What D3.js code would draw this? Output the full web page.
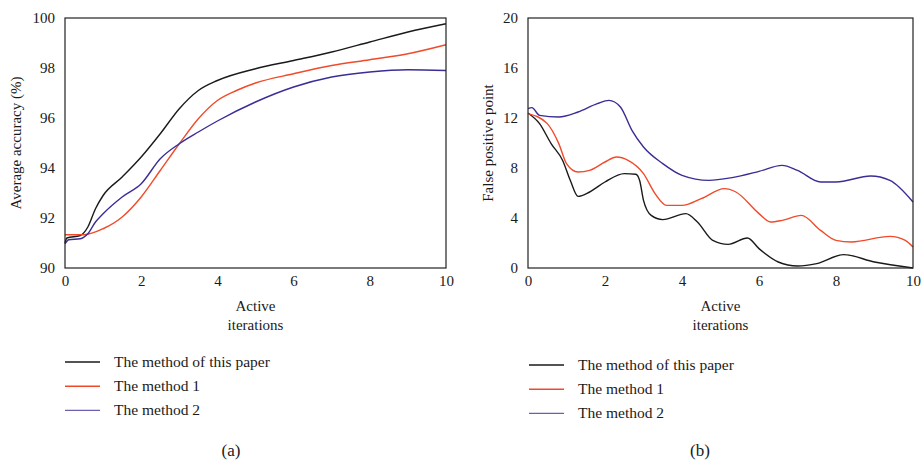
<!DOCTYPE html>
<html><head><meta charset="utf-8">
<script src="https://cdn.jsdelivr.net/npm/d3@7"></script>
<style>
body{margin:0;background:#fff;}
text{font-family:"Liberation Serif","DejaVu Serif",serif;fill:#1a1a1a;}
</style></head>
<body><svg id="c" width="922" height="462"></svg>
<script>
// ---- Data ----
const seriesNames = ["The method of this paper", "The method 1", "The method 2"];
const seriesColors = ["#1a1a1a", "#f04a2a", "#3a2d96"];
const legendColors = ["#1a1a1a", "#f04a2a", "#6a5fb0"];

// Panel (a): Average accuracy
const accX_paper = [0,0.05,0.4,0.6,0.8,1.0,1.5,2.0,2.5,3.0,3.5,4.0,5.0,6.0,7.0,8.0,9.0,10];
const accY_paper = [91.0,91.2,91.3,91.64,92.37,92.9,93.64,94.44,95.37,96.37,97.1,97.5,97.97,98.3,98.64,99.04,99.44,99.77];
const accX_m1 = [0,0.5,1.0,1.5,2.0,2.5,3.0,3.5,4.0,4.5,5.0,6.0,7.0,8.0,9.0,10];
const accY_m1 = [91.33,91.33,91.57,92.04,92.84,93.9,94.97,95.97,96.7,97.1,97.4,97.77,98.1,98.33,98.57,98.93];
const accX_m2 = [0,0.1,0.4,0.6,0.8,1.0,1.5,2.0,2.5,3.0,3.5,4.0,5.0,6.0,7.0,8.0,9.0,10];
const accY_m2 = [90.97,91.13,91.17,91.37,91.84,92.17,92.84,93.37,94.37,94.97,95.44,95.88,96.64,97.24,97.64,97.84,97.93,97.9];

// Panel (b): False positive point
const fpX_paper = [0,0.3,0.6,0.9,1.1,1.3,1.6,2.0,2.5,2.8,2.9,3.0,3.2,3.5,4.1,4.4,4.8,5.2,5.7,6.0,6.5,7.0,7.5,8.2,9.0,10];
const fpY_paper = [12.4,11.55,9.95,8.6,7.0,5.73,6.08,6.88,7.55,7.5,7.0,5.41,4.21,3.87,4.35,3.68,2.21,1.89,2.4,1.55,0.48,0.16,0.35,1.07,0.48,0];
const fpX_m1 = [0,0.5,0.8,1.0,1.3,1.6,2.0,2.3,2.6,3.0,3.3,3.6,4.0,4.5,5.1,5.4,6.0,6.3,6.6,7.1,7.6,8.0,8.4,9.4,9.8,10];
const fpY_m1 = [12.35,11.55,9.95,8.35,7.68,7.81,8.48,8.88,8.61,7.55,5.95,5.01,5.01,5.55,6.35,6.08,4.35,3.68,3.81,4.21,3.01,2.21,2.08,2.53,2.21,1.68];
const fpX_m2 = [0,0.1,0.3,0.8,1.3,1.8,2.1,2.4,2.7,3.0,3.5,4.0,4.7,5.3,6.0,6.6,7.0,7.6,8.0,8.9,9.4,10];
const fpY_m2 = [12.75,12.83,12.21,12.08,12.48,13.15,13.41,12.88,11.01,9.68,8.35,7.41,7.01,7.23,7.73,8.21,7.81,6.88,6.88,7.36,7.01,5.28];

const xTicks = [0,2,4,6,8,10];
const accTicks = [90,92,94,96,98,100];
const fpTicks = [0,4,8,12,16,20];

const svg = d3.select("#c");

function zip(xs, ys){ return xs.map((x,i)=>[x, ys[i]]); }

function panel(opt){
  const g = svg.append("g");
  const x = d3.scaleLinear().domain([0,10]).range([opt.left, opt.right]);
  const y = d3.scaleLinear().domain(opt.yDomain).range([opt.bottom, opt.top]);

  const line = d3.line().x(d=>x(d[0])).y(d=>y(d[1])).curve(d3.curveMonotoneX);
  opt.series.forEach((s,i)=>{
    g.append("path").attr("d", line(s)).attr("fill","none")
      .attr("stroke", seriesColors[i]).attr("stroke-width",1.4);
  });

  g.append("rect").attr("x",opt.left).attr("y",opt.top)
    .attr("width",opt.right-opt.left).attr("height",opt.bottom-opt.top)
    .attr("fill","none").attr("stroke","#222").attr("stroke-width",1.2);

  const xa = g.append("g").attr("transform",`translate(0,${opt.bottom})`)
    .call(d3.axisBottom(x).tickValues(xTicks).tickSize(0).tickPadding(7).tickFormat(d3.format("d")));
  xa.select(".domain").remove();
  xa.selectAll("text").attr("font-size",15).attr("font-family","Liberation Serif").attr("fill","#1a1a1a");

  const ya = g.append("g").attr("transform",`translate(${opt.left},0)`)
    .call(d3.axisLeft(y).tickValues(opt.yTicks).tickSize(0).tickPadding(10).tickFormat(d3.format("d")));
  ya.select(".domain").remove();
  ya.selectAll("text").attr("font-size",15).attr("font-family","Liberation Serif").attr("fill","#1a1a1a");

  const cx = (opt.left+opt.right)/2;
  g.append("text").attr("x",cx).attr("y",opt.bottom+43).attr("text-anchor","middle").attr("font-size",15).text("Active");
  g.append("text").attr("x",cx).attr("y",opt.bottom+62).attr("text-anchor","middle").attr("font-size",15).text("iterations");
  g.append("text").attr("transform",`translate(${opt.ytx},${(opt.top+opt.bottom)/2}) rotate(-90)`)
    .attr("text-anchor","middle").attr("font-size",15).text(opt.yTitle);

  seriesNames.forEach((n,i)=>{
    const ly = opt.legTop + i*24.2;
    g.append("line").attr("x1",opt.legX).attr("x2",opt.legX+35).attr("y1",ly).attr("y2",ly)
      .attr("stroke",legendColors[i]).attr("stroke-width",1.4);
    g.append("text").attr("x",opt.legX+49).attr("y",ly+5).attr("font-size",15.5).text(n);
  });

  g.append("text").attr("x",opt.labX).attr("y",456).attr("text-anchor","middle").attr("font-size",17).text(opt.label);
}

panel({left:65,right:446,top:18,bottom:268,yDomain:[90,100],yTicks:accTicks,yTitle:"Average accuracy (%)",ytx:21,
  series:[zip(accX_paper,accY_paper),zip(accX_m1,accY_m1),zip(accX_m2,accY_m2)],legX:65,legTop:362,labX:231,label:"(a)"});
panel({left:528,right:913,top:18,bottom:268,yDomain:[0,20],yTicks:fpTicks,yTitle:"False positive point",ytx:493,
  series:[zip(fpX_paper,fpY_paper),zip(fpX_m1,fpY_m1),zip(fpX_m2,fpY_m2)],legX:529,legTop:365,labX:700,label:"(b)"});
</script></body></html>
